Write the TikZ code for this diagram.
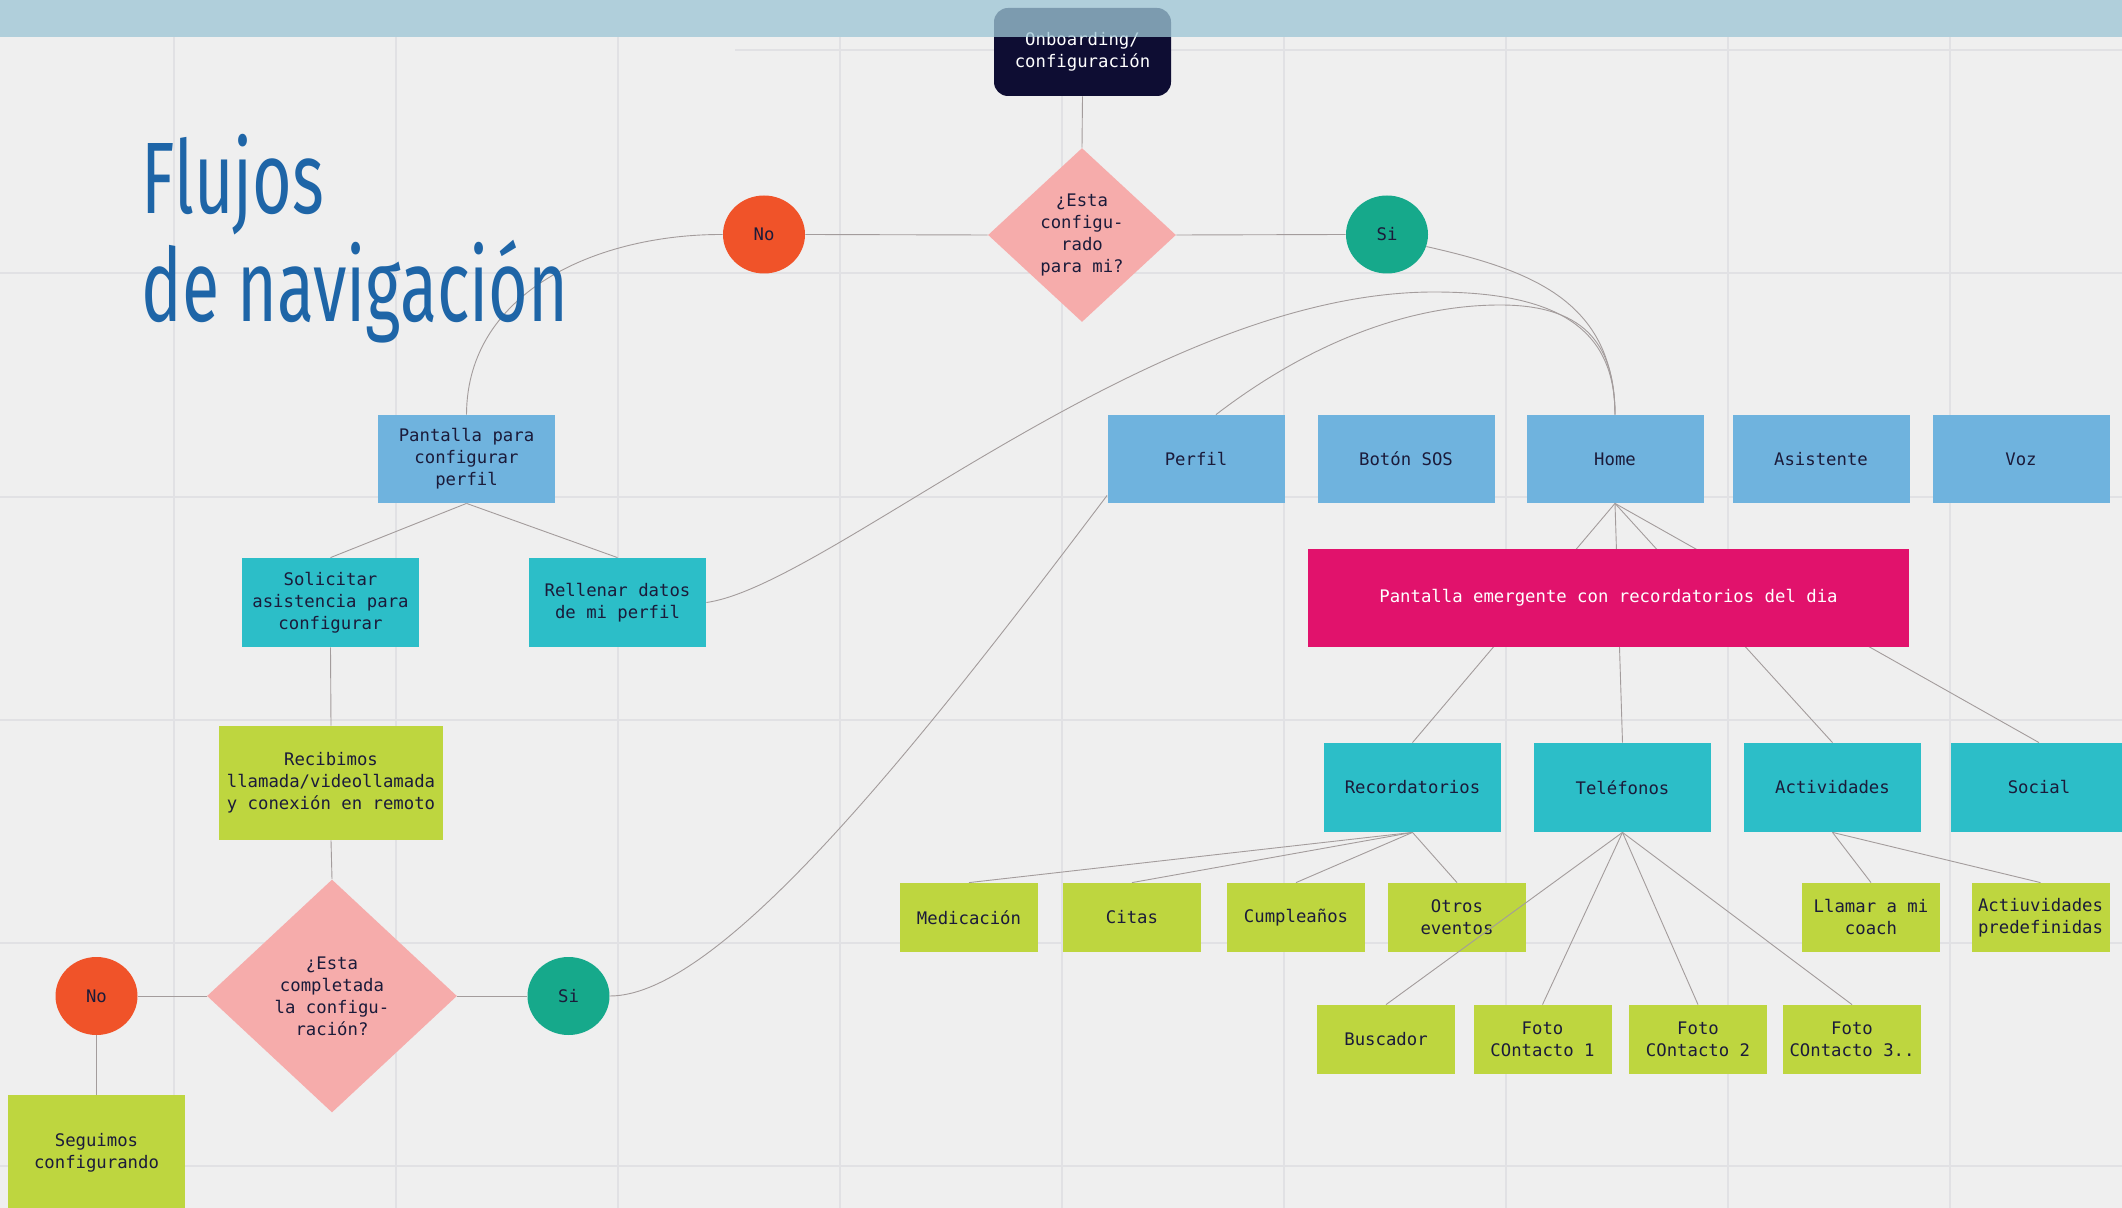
\documentclass[tikz,border=0pt]{standalone}
\usepackage{fontspec}
\setmainfont{DejaVu Sans Mono}
\newfontfamily\titlefont[FakeStretch=0.67]{Fira Sans}
\newfontfamily\boxfont{DejaVu Sans Mono}
\usetikzlibrary{shapes.geometric,calc}
\definecolor{bgc}{HTML}{EFEFEF}
\definecolor{gridc}{HTML}{E1E1E4}
\definecolor{bandc}{HTML}{9EC6D5}
\definecolor{navy}{HTML}{0E0D33}
\definecolor{txt}{HTML}{1B1B3A}
\definecolor{titlec}{HTML}{1E65A7}
\definecolor{bluebox}{HTML}{6FB3DE}
\definecolor{tealbox}{HTML}{2CBEC8}
\definecolor{greenbox}{HTML}{BED63F}
\definecolor{pinkd}{HTML}{F6ACAB}
\definecolor{orangec}{HTML}{F05329}
\definecolor{greenc}{HTML}{16A98B}
\definecolor{magentab}{HTML}{E1126C}
\definecolor{linec}{HTML}{A39C9C}
\pgfdeclarelayer{bg}
\pgfdeclarelayer{edges}
\pgfdeclarelayer{top}
\pgfsetlayers{bg,edges,main,top}
\begin{document}
\begin{tikzpicture}[x=0.5pt,y=-0.5pt,
  every node/.style={font=\boxfont\fontsize{8.65}{11}\selectfont, text=txt, align=center, inner sep=0pt},
  card/.style={rectangle, minimum width=88.5pt, minimum height=44pt},
  bluecard/.style={card, fill=bluebox},
  tealcard/.style={card, fill=tealbox, minimum height=44.5pt},
  greencard/.style={rectangle, fill=greenbox, minimum width=69pt, minimum height=34.5pt},
  decision/.style={diamond, fill=pinkd},
  nocirc/.style={ellipse, fill=orangec, minimum width=41pt, minimum height=39pt},
  sicirc/.style={ellipse, fill=greenc, minimum width=41pt, minimum height=39pt},
  link/.style={draw=linec, line width=0.45pt},
  gridline/.style={draw=gridc, line width=1pt},
  titletext/.style={font=\titlefont\fontsize{50.8}{60}\selectfont, text=titlec, anchor=base west},
]
\useasboundingbox (0,0) rectangle (2122,1208);
\begin{pgfonlayer}{bg}
\fill[bgc] (0,0) rectangle (2122,1208);
\foreach \gx in {174,396,618,840,1062,1284,1506,1728,1950} \draw[gridline] (\gx,37) -- (\gx,1208);
\foreach \gy in {273,497,720,943,1166} \draw[gridline] (0,\gy) -- (2122,\gy);
\draw[gridline] (735,50) -- (2122,50);
\end{pgfonlayer}

% title
\node[titletext] (t1) at (141,214) {Flujos};
\node[titletext] (t2) at (141,322) {de navigación};

% left flow
\node[card, fill=navy, rounded corners=7pt, text=white] (onb) at (1082.5,52) {Onboarding/\\configuración};
\node[decision, minimum width=94pt, minimum height=87pt] (d1) at (1082,235) {¿Esta\\configu-\\rado\\para mi?};
\node[nocirc] (no1) at (764,234.5) {No};
\node[sicirc] (si1) at (1387,234.5) {Si};
\node[bluecard] (pant) at (466.5,459) {Pantalla para\\configurar\\perfil};
\node[tealcard] (sol) at (330.5,602.5) {Solicitar\\asistencia para\\configurar};
\node[tealcard] (rel) at (617.5,602.5) {Rellenar datos\\de mi perfil};
\node[greencard, minimum width=112pt, minimum height=57pt] (rec) at (331,783) {Recibimos\\llamada/videollamada\\y conexión en remoto};
\node[decision, minimum width=125pt, minimum height=116.5pt] (d2) at (332,996) {¿Esta\\completada\\la configu-\\ración?};
\node[nocirc] (no2) at (96.5,996) {No};
\node[sicirc] (si2) at (568.5,996) {Si};
\node[greencard, minimum width=88.5pt, minimum height=57.5pt] (seg) at (96.5,1152.5) {Seguimos\\configurando};

% main menu
\node[bluecard] (perfil) at (1196,459) {Perfil};
\node[bluecard] (sos) at (1406,459) {Botón SOS};
\node[bluecard] (home) at (1615,459) {Home};
\node[bluecard] (asis) at (1821,459) {Asistente};
\node[bluecard] (voz) at (2021,459) {Voz};
\node[rectangle, fill=magentab, text=white, minimum width=300.5pt, minimum height=49pt] (popup) at (1608.5,598) {Pantalla emergente con recordatorios del dia};
\node[tealcard] (recd) at (1412.5,787.5) {Recordatorios};
\node[tealcard] (tel) at (1622.5,787.5) {Teléfonos};
\node[tealcard] (act) at (1832.5,787.5) {Actividades};
\node[tealcard] (soc) at (2039,787.5) {Social};
\node[greencard] (med) at (969,917.5) {Medicación};
\node[greencard] (cit) at (1132,917.5) {Citas};
\node[greencard] (cum) at (1296,917.5) {Cumpleaños};
\node[greencard] (otr) at (1457,917.5) {Otros\\eventos};
\node[greencard] (lla) at (1871,917.5) {Llamar a mi\\coach};
\node[greencard] (pre) at (2040.5,917.5) {Actiuvidades\\predefinidas};
\node[greencard] (bus) at (1386,1039.5) {Buscador};
\node[greencard] (fc1) at (1542.5,1039.5) {Foto\\COntacto 1};
\node[greencard] (fc2) at (1698,1039.5) {Foto\\COntacto 2};
\node[greencard] (fc3) at (1852,1039.5) {Foto\\COntacto 3..};

\begin{pgfonlayer}{edges}
\draw[link] (onb.south) -- (d1.north);
\draw[link] (d1.west) -- (no1.east);
\draw[link] (d1.east) -- (si1.west);
\draw[link] (no1.west) .. controls (600,234) and (467,290) .. (pant.north);
\draw[link] (si1.-17) .. controls (1530,270) and (1614,300) .. (home.north);
\draw[link] (rel.east) .. controls (830,585) and (1150,292) .. (1434,292) .. controls (1560,292) and (1615,330) .. (home.north);
\draw[link] ($(perfil.north)+(20,0)$) .. controls (1300,350) and (1400,305) .. (1500,305) .. controls (1580,305) and (1615,340) .. (home.north);
\coordinate (pcorner) at ($(perfil.south west)+(0,-8)$);
\draw[link] (si2.east) .. controls (720,996) and (915,750) .. (pcorner);
\draw[link] (pant.south) -- (sol.north);
\draw[link] (pant.south) -- (rel.north);
\draw[link] (sol.south) -- (rec.north);
\draw[link] (rec.south) -- (d2.north);
\draw[link] (d2.west) -- (no2.east);
\draw[link] (d2.east) -- (si2.west);
\draw[link] (no2.south) -- (seg.north);
\foreach \t in {recd,tel,act,soc} \draw[link] (home.south) -- (\t.north);
\foreach \t in {med,cit,cum,otr} \draw[link] (recd.south) -- (\t.north);
\foreach \t in {fc1,fc2,fc3} \draw[link] (tel.south) -- (\t.north);
\foreach \t in {lla,pre} \draw[link] (act.south) -- (\t.north);
\end{pgfonlayer}

\begin{pgfonlayer}{top}
\draw[link] (tel.south) -- (bus.north);
\fill[bandc, opacity=0.77] (0,0) rectangle (2122,37);
\end{pgfonlayer}
\end{tikzpicture}
\end{document}
